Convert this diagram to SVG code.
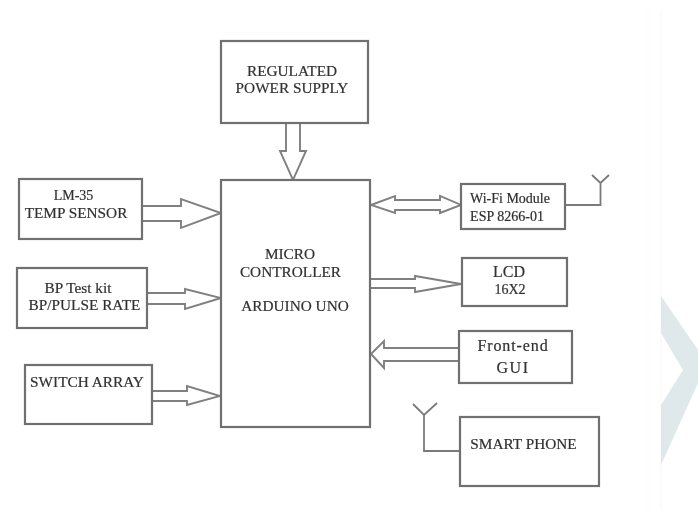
<svg xmlns="http://www.w3.org/2000/svg" width="698" height="515" viewBox="0 0 698 515">
<style>
.b{fill:#fff;stroke:#707070;stroke-width:2.200}
.c{fill:#fff;stroke:#808080;stroke-width:1.900;stroke-linejoin:miter}
.a{fill:none;stroke:#7a7a7a;stroke-width:1.800}
text{font-family:"Liberation Serif","Times New Roman",serif;font-size:14px;fill:#303030;stroke:#303030;stroke-width:.2;text-anchor:middle}
.u{font-size:15.300px}
.l{font-size:16px;letter-spacing:.9px}
</style>
<defs><filter id="s" x="-2%" y="-2%" width="104%" height="104%"><feGaussianBlur stdDeviation="0.7"/></filter></defs>
<rect width="698" height="515" fill="#fff"/>
<g id="background">
<path d="M648 10V510" stroke="#fbfbfb" stroke-width="1" fill="none"/>
<path d="M661 10V510" stroke="#f7f7f7" stroke-width="1" fill="none"/>
<path d="M661 296L698 350V383L661 465V405L683 370L661 333Z" fill="#dfe8ea"/>
</g>
<g filter="url(#s)">
<g id="connectors">
<path class="c" d="M142 206H181V199L221 213L181 228V221H142Z"/>
<path class="c" d="M147 293H185V289L221 298L185 309V304H147Z"/>
<path class="c" d="M152 391H187V386L220 396L187 405V401H152Z"/>
<path class="c" d="M286 123V151H280L293 180L306 151H300V123Z"/>
<path class="c" d="M371 205L395 196V200H440V196L461 205L440 213V210H395V213Z"/>
<path class="c" d="M370 279H415V276L461 284L415 292V288H370Z"/>
<path class="c" d="M459 348H384V341L371 354L384 368V361H459"/>
<path class="a" d="M565 205H600.500V183M592 175L600.500 183L609 175"/>
<path class="a" d="M460 451H424V415M413 404L424 415L437 403"/>
</g>
<g id="power"><rect class="b" x="221" y="41" width="147" height="82"/><text class="u" x="292" y="76">REGULATED</text><text class="u" x="292" y="93">POWER SUPPLY</text></g>
<g id="mcu"><rect class="b" x="221" y="180" width="149" height="247"/><text class="u" x="290" y="259">MICRO</text><text class="u" x="290.500" y="277">CONTROLLER</text><text class="u" x="295" y="311">ARDUINO UNO</text></g>
<g id="lm35"><rect class="b" x="19" y="179" width="123" height="60"/><text x="73.500" y="200">LM-35</text><text class="u" x="76" y="218">TEMP SENSOR</text></g>
<g id="bp"><rect class="b" x="17" y="268" width="130" height="60"/><text class="u" x="78" y="293">BP Test kit</text><text class="u" x="84.500" y="310">BP/PULSE RATE</text></g>
<g id="switch"><rect class="b" x="25" y="365" width="127" height="59"/><text class="u" x="87" y="387">SWITCH ARRAY</text></g>
<g id="wifi"><rect class="b" x="461" y="184" width="104" height="45"/><text x="510" y="203">Wi-Fi Module</text><text x="507" y="221">ESP 8266-01</text></g>
<g id="lcd"><rect class="b" x="462" y="258" width="105" height="48"/><text style="font-size:16px" x="509" y="277">LCD</text><text x="510" y="294">16X2</text></g>
<g id="gui"><rect class="b" x="459" y="331" width="113" height="52"/><text class="l" x="513" y="351">Front-end</text><text class="l" style="letter-spacing:1.500px" x="513" y="373">GUI</text></g>
<g id="phone"><rect class="b" x="460" y="417" width="139" height="69"/><text class="u" x="523.500" y="449">SMART PHONE</text></g>
</g>
</svg>
